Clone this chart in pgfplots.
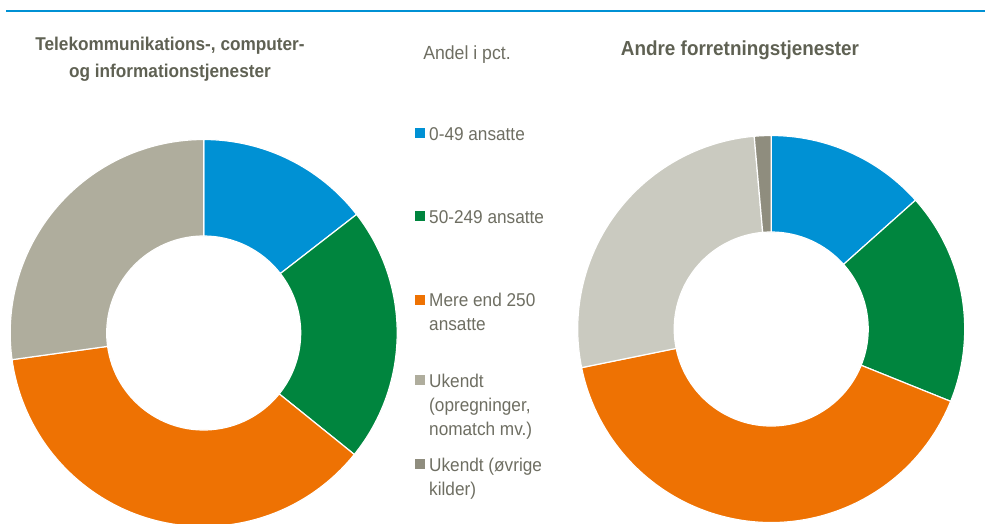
\documentclass[border=0pt]{standalone}
\usepackage{pgfplots}
\pgfplotsset{compat=1.18}
\usepackage{pgfplotstable}
\usepackage{fontspec}
\setmainfont{Liberation Sans}
\newfontfamily\narrowfont[FakeStretch=0.93]{Liberation Sans}

\definecolor{cBlue}{HTML}{0091D4}
\definecolor{cGreen}{HTML}{00853E}
\definecolor{cOrange}{HTML}{EE7203}
\definecolor{cGrayA}{HTML}{AFAD9D}
\definecolor{cGrayB}{HTML}{CACAC0}
\definecolor{cDark}{HTML}{8F8D7E}
\definecolor{cTitle}{HTML}{5F6153}
\definecolor{cText}{HTML}{6E6E62}

% Andel i pct.: 0-49, 50-249, >250, Ukendt (opregninger), Ukendt (oevrige)
\pgfplotstableread{
seg val
0 14.5
1 21.3
2 37.0
3 27.2
4 0.0
}\tableA
\pgfplotstableread{
seg val
0 13.4
1 17.7
2 40.7
3 26.8
4 1.4
}\tableB

\newcommand\drawdonut[2]{%
  \gdef\cum{0}%
  \foreach \i/\col in {0/cBlue,1/cGreen,2/cOrange,3/#2,4/cDark}{%
    \pgfplotstablegetelem{\i}{val}\of{#1}%
    \let\v\pgfplotsretval
    \pgfmathsetmacro\a{90-3.6*\cum}%
    \pgfmathsetmacro\b{90-3.6*(\cum+\v)}%
    \fill[\col, draw=white, line width=1.2pt, line join=round]
      ([shift={(\a:193.5pt)}]axis cs:0,0) arc[start angle=\a, end angle=\b, radius=193.5pt]
      -- ([shift={(\b:97pt)}]axis cs:0,0) arc[start angle=\b, end angle=\a, radius=97pt] -- cycle;
    \pgfmathsetmacro\c{\cum+\v}\xdef\cum{\c}%
  }%
}

\begin{document}
\begin{tikzpicture}
\useasboundingbox (0,0) rectangle (985pt,-524pt);
\clip (0,0) rectangle (985pt,-524pt);

\draw[cBlue, line width=2pt] (6pt,-11pt) -- (985pt,-11pt);

\begin{axis}[at={(203.7pt,-333pt)}, anchor=center, x=1pt, y=1pt,
  xmin=-200, xmax=200, ymin=-200, ymax=200, hide axis, clip=false]
\pgfplotsextra{\drawdonut{\tableA}{cGrayA}}
\end{axis}

\begin{axis}[at={(771.2pt,-329pt)}, anchor=center, x=1pt, y=1pt,
  xmin=-200, xmax=200, ymin=-200, ymax=200, hide axis, clip=false]
\pgfplotsextra{\drawdonut{\tableB}{cGrayB}}
\end{axis}

\node[font=\narrowfont\bfseries\fontsize{18.5}{27}\selectfont, text=cTitle, align=center]
  at (170pt,-59.5pt) {Telekommunikations-, computer-\\og informationstjenester};
\node[font=\narrowfont\bfseries\fontsize{20.3}{27}\selectfont, text=cTitle]
  at (740pt,-50pt) {Andre forretningstjenester};
\node[anchor=base, inner sep=0pt, font=\narrowfont\fontsize{19}{24}\selectfont, text=cText]
  at (467pt,-60pt) {Andel i pct.};

\tikzset{lg/.style={anchor=base west, inner sep=0pt, text=cText, font=\narrowfont\fontsize{18.5}{24}\selectfont}}
\fill[cBlue]   (415pt,-128pt) rectangle (425pt,-138pt);
\node[lg] at (429pt,-140pt) {0-49 ansatte};
\fill[cGreen]  (415pt,-211pt) rectangle (425pt,-221pt);
\node[lg] at (429pt,-223pt) {50-249 ansatte};
\fill[cOrange] (415pt,-295pt) rectangle (425pt,-305pt);
\node[lg] at (429pt,-306.5pt) {Mere end 250};
\node[lg] at (429pt,-330.5pt) {ansatte};
\fill[cGrayA]  (415pt,-375pt) rectangle (425pt,-385pt);
\node[lg] at (429pt,-387pt) {Ukendt};
\node[lg] at (429pt,-411pt) {(opregninger,};
\node[lg] at (429pt,-435pt) {nomatch mv.)};
\fill[cDark]   (415pt,-459pt) rectangle (425pt,-469pt);
\node[lg] at (429pt,-471pt) {Ukendt (øvrige};
\node[lg] at (429pt,-495pt) {kilder)};
\end{tikzpicture}
\end{document}
